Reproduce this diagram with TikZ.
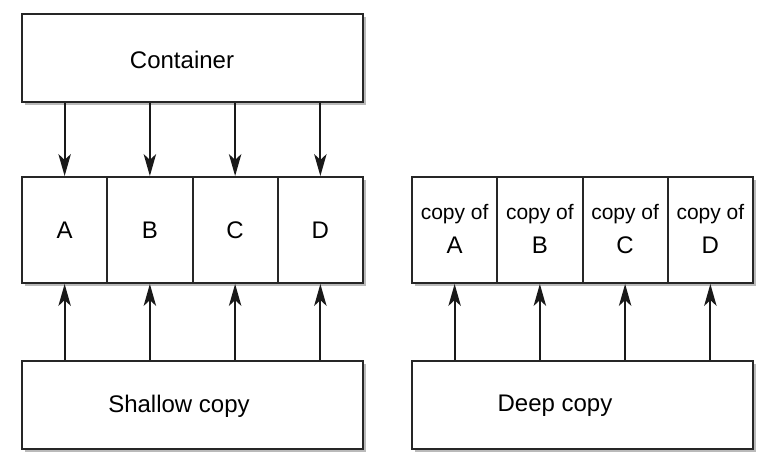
\documentclass[tikz,border=0pt]{standalone}
\usepackage{fontspec}
\setmainfont{Liberation Sans}
\usetikzlibrary{arrows.meta,shadows}
\begin{document}
\begin{tikzpicture}[x=1pt,y=-1pt,
  box/.style={draw=black!85,line width=2pt,fill=white,inner sep=0pt,
    drop shadow={shadow xshift=2.5pt,shadow yshift=-3pt,fill=black!45,opacity=0.6}},
  cell/.style={box,minimum width=85.25pt,minimum height=106pt},
  big/.style={box,minimum width=341pt,minimum height=88pt},
  lbl/.style={font=\fontsize{24}{26}\selectfont,inner sep=0pt},
  clbl/.style={font=\fontsize{21}{23}\selectfont,inner sep=0pt},
  tip/.tip={Stealth[length=22pt,width=12.5pt,inset=6pt]},
  arr/.style={line width=1.8pt,draw=black!90,-tip}]
\useasboundingbox (0,0) rectangle (782,460);
% left
\node[big] (cont) at (192.5,58) {};
\node[lbl] (contt) at (182,60) {Container};
\node[cell] (A) at (64.625,230) {};
\node[cell] (B) at (149.875,230) {};
\node[cell] (C) at (235.125,230) {};
\node[cell] (D) at (320.375,230) {};
\node[lbl] (At) at (A) {A};
\node[lbl] (Bt) at (B) {B};
\node[lbl] (Ct) at (C) {C};
\node[lbl] (Dt) at (D) {D};
\node[big] (sh) at (192.5,405) {};
\node[lbl] (sht) at (179,406) {Shallow copy};
% right
\node[cell] (A2) at (454.625,230) {};
\node[cell] (B2) at (539.875,230) {};
\node[cell] (C2) at (625.125,230) {};
\node[cell] (D2) at (710.375,230) {};
\foreach \n in {A,B,C,D}{
  \node[clbl] (\n2c) at ([yshift=16pt]\n2.center) {copy of};
  \node[lbl] (\n2t) at ([yshift=-15pt]\n2.center) {\n};
}
\node[big] (dp) at (582.5,405) {};
\node[lbl] (dpt) at (555,406) {Deep copy};
% arrows
\foreach \n in {A,B,C,D}{
  \draw[arr] (cont.south -| \n.north) -- (\n.north);
  \draw[arr] (sh.north -| \n.south) -- (\n.south);
  \draw[arr] (dp.north -| \n2.south) -- (\n2.south);
}
\end{tikzpicture}
\end{document}
